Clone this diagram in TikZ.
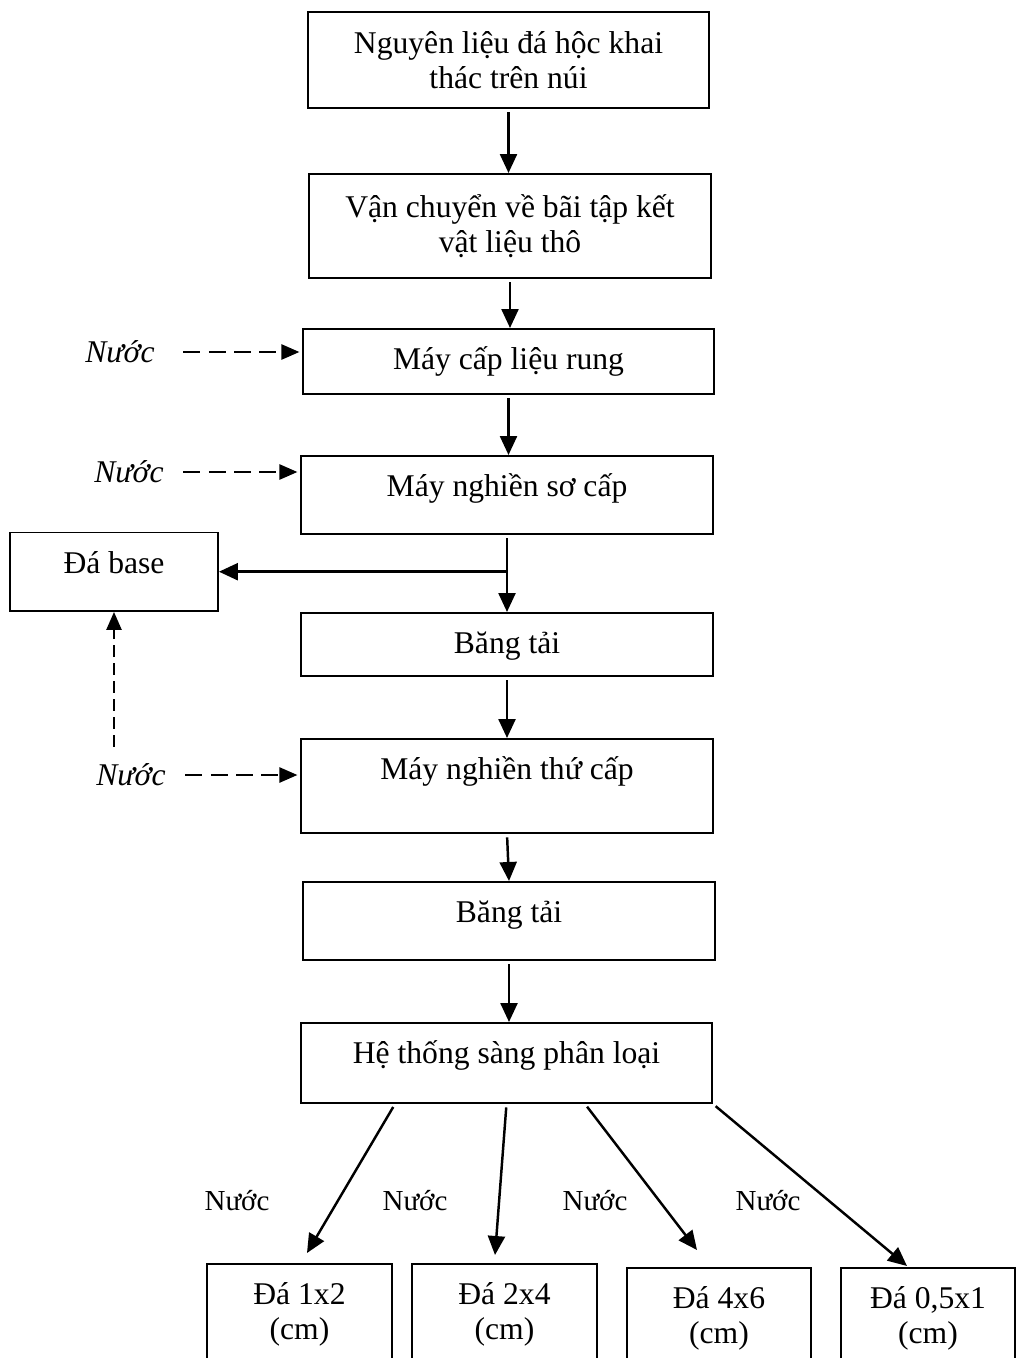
\documentclass[tikz,border=0pt]{standalone}
\usepackage{fontspec}
\setmainfont{Liberation Serif}
\usetikzlibrary{arrows.meta,positioning,calc}

\begin{document}
\begin{tikzpicture}[x=0.02cm, y=-0.02cm, font=\fontsize{18}{20}\selectfont,
        proc/.style={draw, rectangle, align=center, inner sep=0pt, line width=1.1pt, anchor=north},
        stage/.style={proc, minimum height=#1, text height=0.5cm, text depth=#1-1.14cm},
        product/.style={proc, minimum width=#1, minimum height=2cm},
        flow/.style={-{Triangle[length=0.38cm, width=0.34cm]}, line width=1.4pt, shorten <=2pt},
        water/.style={-{Triangle[length=0.36cm, width=0.3cm]}, line width=1.4pt, dash pattern=on 9.6pt off 4.8pt, shorten >=1.5pt},
        wet/.style={anchor=base, inner sep=0pt, text height=0.45cm, text depth=0.05cm, font=\fontsize{18}{20}\selectfont\itshape},
        tag/.style={anchor=base, inner sep=0pt, font=\fontsize{16.5}{19}\selectfont}]
                \useasboundingbox (0,0) rectangle (1016,1358);
                \clip (0,0) rectangle (1016,1358);

                \node[proc, minimum width=8.02cm, minimum height=1.92cm] (raw)    at (508.5,11)  {Nguyên liệu đá hộc khai\\thác trên núi};
                \node[proc, minimum width=8.03cm, minimum height=2.08cm] (haul)   at (510,173)   {Vận chuyển về bãi tập kết\\vật liệu thô};
                \node[stage=1.3cm,  minimum width=8.22cm]                (feeder) at (508.5,328) {Máy cấp liệu rung};
                \node[stage=1.56cm, minimum width=8.24cm]                (crush1) at (507,455)   {Máy nghiền sơ cấp};
                \node[stage=1.57cm, minimum width=4.16cm]                (base)   at (114,531.5) {Đá base};
                \node[stage=1.26cm, minimum width=8.24cm]                (belt1)  at (507,612)   {Băng tải};
                \node[stage=1.88cm, minimum width=8.24cm]                (crush2) at (507,738)   {Máy nghiền thứ cấp};
                \node[stage=1.56cm, minimum width=8.24cm]                (belt2)  at (509,881)   {Băng tải};
                \node[stage=1.6cm,  minimum width=8.22cm]                (screen) at (506.5,1022) {Hệ thống sàng phân loại};

                \node[product=3.7cm]  (p1) at (299.5,1263) {Đá 1x2\\(cm)};
                \node[product=3.7cm]  (p2) at (504.5,1263) {Đá 2x4\\(cm)};
                \node[product=3.68cm] (p3) at (719,1267)   {Đá 4x6\\(cm)};
                \node[product=3.48cm] (p4) at (928,1267)   {Đá 0,5x1\\(cm)};

                \node[wet] (w1) at (120,362) {Nước};
                \node[wet] (w2) at (129,482) {Nước};
                \node[wet] (w3) at (131,785) {Nước};

                \node[tag] (n1) at (237,1210) {Nước};
                \node[tag] (n2) at (415,1210) {Nước};
                \node[tag] (n3) at (595,1210) {Nước};
                \node[tag] (n4) at (768,1210) {Nước};

                \coordinate (split) at (crush1.south |- base.east);

                \path[flow]
                    (raw.south) edge (raw.south |- haul.north)
                    (haul.south) edge (haul.south |- feeder.north)
                    (feeder.south) edge (feeder.south |- crush1.north)
                    (crush1.south) edge (belt1.north)
                    (split) edge[shorten <=0pt] (base.east)
                    (belt1.south) edge (crush2.north)
                    (crush2.south) edge (belt2.north)
                    (belt2.south) edge (belt2.south |- screen.north)
                    ($(screen.south west)!0.23!(screen.south east)$) edge ([xshift=0.15cm, yshift=0.2cm]p1.north)
                    (screen.south) edge ([xshift=-0.19cm, yshift=0.16cm]p2.north)
                    ($(screen.south west)!0.69!(screen.south east)$) edge ([xshift=-0.44cm, yshift=0.34cm]p3.north)
                    (screen.south east) edge ([xshift=-0.42cm, yshift=0.02cm]p4.north)
                    ;
                \path[water]
                    (w1) edge[shorten <=0.57cm] (w1 -| feeder.west)
                    (w2) edge[shorten <=0.39cm] (w2 -| crush1.west)
                    (w3) edge[shorten <=0.39cm] (w3 -| crush2.west)
                    ;
                \path[water, dash pattern=on 6.8pt off 3.4pt, shorten >=0pt]
                    (w3.north -| base.south) edge[shorten <=0.31cm] (base.south)
                    ;
            \end{tikzpicture}
\end{document}
